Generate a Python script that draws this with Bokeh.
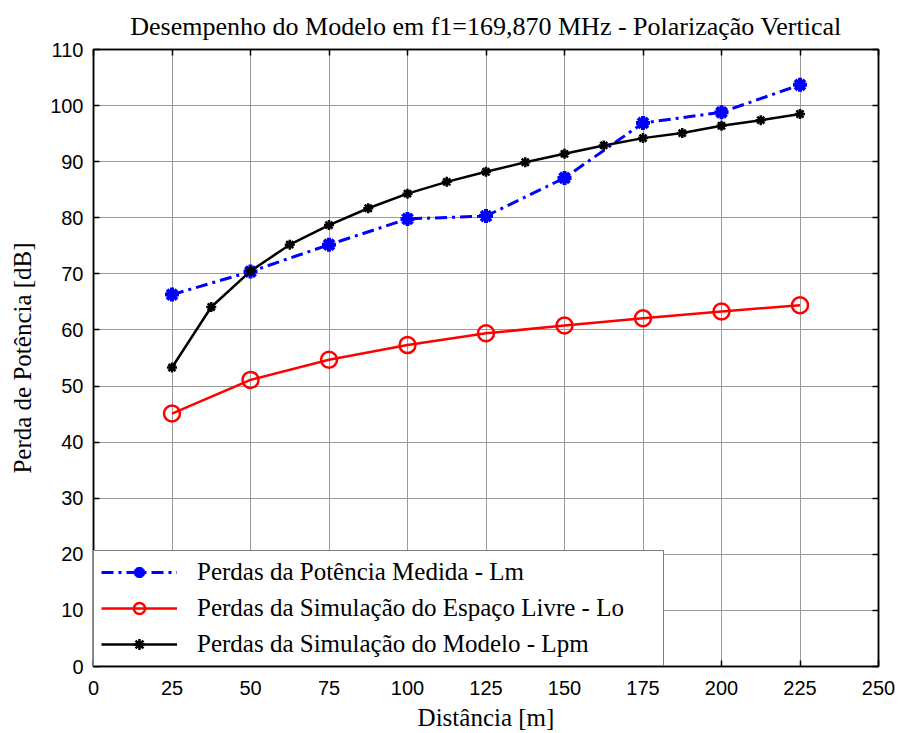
from bokeh.plotting import figure
from bokeh.models import LinearAxis, FixedTicker, Range1d, Legend
from bokeh.embed import file_html
from bokeh.resources import INLINE

# ---- data ----
x_meas = [25, 50, 75, 100, 125, 150, 175, 200, 225]
lm = [66.3, 70.4, 75.2, 79.8, 80.3, 87.1, 96.9, 98.8, 103.7]
lo = [45.1, 51.1, 54.7, 57.3, 59.4, 60.8, 62.1, 63.3, 64.4]
x_model = [25, 37.5, 50, 62.5, 75, 87.5, 100, 112.5, 125, 137.5, 150, 162.5,
           175, 187.5, 200, 212.5, 225]
lpm = [53.3, 64.1, 70.5, 75.2, 78.7, 81.7, 84.3, 86.4, 88.2, 89.9, 91.4, 92.9,
       94.2, 95.1, 96.4, 97.4, 98.5]

x_ticks = [0, 25, 50, 75, 100, 125, 150, 175, 200, 225, 250]
y_ticks = [0, 10, 20, 30, 40, 50, 60, 70, 80, 90, 100, 110]

title = "Desempenho do Modelo em f1=169,870 MHz - Polarização Vertical"
x_label = "Distância [m]"
y_label = "Perda de Potência [dB]"
lab_lm = "Perdas da Potência Medida - Lm"
lab_lo = "Perdas da Simulação do Espaço Livre - Lo"
lab_lpm = "Perdas da Simulação do Modelo - Lpm"

SERIF = "Liberation Serif"
SANS = "Liberation Sans"

p = figure(width=901, height=733, output_backend="svg", toolbar_location=None,
           x_range=Range1d(0, 250), y_range=Range1d(0, 110),
           min_border_left=93, min_border_right=23, min_border_top=49,
           min_border_bottom=66, background_fill_color="white",
           border_fill_color="white")

p.title.text = title
p.title.text_font = SERIF
p.title.text_font_size = "26px"
p.title.text_font_style = "normal"
p.title.text_color = "black"
p.title.align = "center"
p.title.standoff = 17

p.outline_line_color = "black"
p.outline_line_width = 1.5

for ax in (p.xaxis[0], p.yaxis[0]):
    ax.major_label_text_font = SANS
    ax.major_label_text_font_size = "20px"
    ax.major_label_text_color = "black"
    ax.axis_label_text_font = SERIF
    ax.axis_label_text_font_size = "25px"
    ax.axis_label_text_font_style = "normal"
    ax.axis_label_text_color = "black"
    ax.axis_line_color = "black"
    ax.axis_line_width = 1.5
    ax.major_tick_in = 6
    ax.major_tick_out = 0
    ax.major_tick_line_width = 1.5
    ax.minor_tick_line_color = None

p.xaxis[0].ticker = FixedTicker(ticks=x_ticks)
p.yaxis[0].ticker = FixedTicker(ticks=y_ticks)
p.xaxis[0].axis_label = x_label
p.yaxis[0].axis_label = y_label
p.xaxis[0].major_label_standoff = 14
p.yaxis[0].major_label_standoff = 10
p.xaxis[0].axis_label_standoff = 6
p.yaxis[0].axis_label_standoff = 11

top_ax = LinearAxis(ticker=FixedTicker(ticks=x_ticks), major_label_text_color=None,
                    major_label_text_font_size="1px",
                    major_tick_in=6, major_tick_out=0, minor_tick_line_color=None,
                    axis_line_color="black", axis_line_width=1.5, major_tick_line_width=1.5,
                    major_label_standoff=0)
right_ax = LinearAxis(ticker=FixedTicker(ticks=y_ticks), major_label_text_color=None,
                      major_label_text_font_size="1px",
                      major_tick_in=6, major_tick_out=0, minor_tick_line_color=None,
                      axis_line_color="black", axis_line_width=1.5, major_tick_line_width=1.5,
                      major_label_standoff=0)
p.add_layout(top_ax, "above")
p.add_layout(right_ax, "right")

p.xgrid.ticker = FixedTicker(ticks=x_ticks)
p.ygrid.ticker = FixedTicker(ticks=y_ticks)
for g in (p.xgrid[0], p.ygrid[0]):
    g.grid_line_color = "#9a9a9a"
    g.grid_line_width = 1

# ---- series ----
r1 = p.line(x_meas, lm, line_color="#0000ff", line_width=3, line_dash="12 5 3 5")
r1m = p.scatter(x_meas, lm, marker="asterisk", size=14, line_color="#0000ff",
                line_width=4)
r2 = p.line(x_meas, lo, line_color="#ff0000", line_width=2.5)
r2m = p.scatter(x_meas, lo, marker="circle", size=16, line_color="#ff0000",
                fill_color=None, line_width=2.5)
r3 = p.line(x_model, lpm, line_color="black", line_width=2.5)
r3m = p.scatter(x_model, lpm, marker="asterisk", size=10, line_color="black",
                line_width=2.5)

legend = Legend(items=[(lab_lm, [r1, r1m]), (lab_lo, [r2, r2m]), (lab_lpm, [r3, r3m])],
                location="bottom_left", margin=0, padding=7,
                glyph_width=76, glyph_height=28, label_height=28, spacing=8,
                label_standoff=20, label_width=459,
                label_text_font=SERIF, label_text_font_size="25px",
                label_text_color="black",
                border_line_color="black", border_line_width=1.5,
                background_fill_color="white", background_fill_alpha=1.0)
p.add_layout(legend, "center")

open("out.html", "w").write(file_html(p, INLINE))
